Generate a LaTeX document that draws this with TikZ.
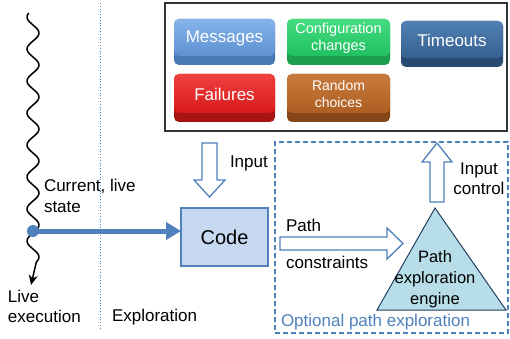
\documentclass[tikz,border=0pt]{standalone}
\usepackage{fontspec}
\setmainfont{Liberation Sans}
\usetikzlibrary{arrows.meta,shapes.geometric}
\definecolor{accent}{HTML}{4F81BD}
\definecolor{codefill}{HTML}{C6D9F1}
\definecolor{trifill}{HTML}{B7DEE8}
\definecolor{triline}{HTML}{243F60}
\definecolor{msgA}{HTML}{86B4EA}\definecolor{msgB}{HTML}{5F91D3}\definecolor{msgC}{HTML}{4A78B4}
\definecolor{cfgA}{HTML}{45DC80}\definecolor{cfgB}{HTML}{20C060}\definecolor{cfgC}{HTML}{1C9E4E}
\definecolor{timA}{HTML}{5080B4}\definecolor{timB}{HTML}{36618F}\definecolor{timC}{HTML}{284B72}
\definecolor{faiA}{HTML}{F04040}\definecolor{faiB}{HTML}{D81A1A}\definecolor{faiC}{HTML}{A81414}
\definecolor{ranA}{HTML}{C87A3C}\definecolor{ranB}{HTML}{AE5E22}\definecolor{ranC}{HTML}{864718}
\newcommand{\mybtn}[7]{%
  \fill[#7,rounded corners=5pt] (#1,#2) rectangle (#3,#4);
  \shade[top color=#5,bottom color=#6,rounded corners=5pt] (#1,#2) rectangle (#3,#4-9);
}
\begin{document}
\begin{tikzpicture}[x=1pt,y=-1pt,
  every node/.style={inner sep=0pt,outer sep=0pt},
  lbl/.style={font=\fontsize{17}{20.5}\selectfont,align=left},
  btntext/.style={text=white,align=center},
  hollow/.style={draw=accent,line width=1.3pt,fill=white,line join=miter},
]
\useasboundingbox (0,0) rectangle (510,339);
\fill[white] (0,0) rectangle (510,339);

% dotted separator
\draw[accent,line width=0.8pt,dotted] (100,3) -- (100,328);

% top box
\node[draw=black!80,line width=1.5pt,minimum width=342pt,minimum height=128pt,anchor=north west] (events) at (165,3) {};

% buttons
\mybtn{174}{19}{275}{65}{msgA}{msgB}{msgC}
\mybtn{287}{19}{390}{65}{cfgA}{cfgB}{cfgC}
\mybtn{401}{21}{503}{67}{timA}{timB}{timC}
\mybtn{174}{74}{275}{122}{faiA}{faiB}{faiC}
\mybtn{287}{74}{390}{122}{ranA}{ranB}{ranC}
\node[btntext,font=\fontsize{17}{20}\selectfont] (msg) at (224.5,38) {Messages};
\node[btntext,font=\fontsize{14.5}{17}\selectfont] (cfg) at (338.5,38) {Configuration\\changes};
\node[btntext,font=\fontsize{17}{20}\selectfont] (tim) at (452,40) {Timeouts};
\node[btntext,font=\fontsize{17}{20}\selectfont] (fai) at (224.5,94) {Failures};
\node[btntext,font=\fontsize{14}{17}\selectfont] (ran) at (338.5,94) {Random\\choices};

% live execution wave
\coordinate (wbot) at (31,285);
\draw[black,line width=1.5pt,-{Stealth[length=10pt,width=9pt]}]
  plot[domain=13:262,samples=160,smooth] ({33+6*sin(11.25*(\x-25))},\x) -- (wbot);

% state dot and arrow to code
\node[circle,fill=accent,minimum size=12pt] (state) at (33,231) {};
\node[draw=accent,line width=1.5pt,fill=codefill,minimum width=87pt,minimum height=58pt,anchor=north west] (code) at (181,208) {};
\node[font=\fontsize{20}{24}\selectfont] (codet) at (code.center) {Code};
\draw[accent,line width=5pt,-{Triangle[length=15pt,width=17pt]}] (state.center) -- (state.center -| code.west);

% labels
\node[lbl,anchor=west] (cur) at (44,196) {Current, live\\state};
\node[lbl,anchor=west] (live) at (8,306.5) {Live\\execution};
\node[lbl,anchor=west] (expl) at (112,317) {Exploration};

% input arrow
\draw[hollow] (202,143) -- (217,143) -- (217,180) -- (225,180) -- (209.5,197) -- (194,180) -- (202,180) -- cycle;
\node[lbl,anchor=west] (inp) at (230,163) {Input};

% optional dashed box
\node[draw=accent,line width=1.5pt,dash pattern=on 5pt off 3pt,minimum width=233pt,minimum height=191pt,anchor=north west] (opt) at (275,142) {};
\node[lbl,anchor=west,text=accent] (optl) at (281,322) {Optional path exploration};

% path constraints arrow
\draw[hollow] (280,237) -- (387,237) -- (387,228) -- (403,243.5) -- (387,259) -- (387,250) -- (280,250) -- cycle;
\node[lbl,anchor=west] (pc1) at (286,225) {Path};
\node[lbl,anchor=west] (pc2) at (286,262) {constraints};

% triangle
\draw[triline,fill=trifill,line width=1pt,line join=miter] (435,208) -- (506,310) -- (377,310) -- cycle;
\node[lbl,align=center,font=\fontsize{16.5}{21}\selectfont] (eng) at (435,279) {Path\\exploration\\engine};

% input control arrow
\draw[hollow] (430,202) -- (430,162) -- (422,162) -- (437,143) -- (452,162) -- (444,162) -- (444,202) -- cycle;
\node[lbl,align=center] (ic) at (479,178.5) {Input\\control};
\end{tikzpicture}
\end{document}
